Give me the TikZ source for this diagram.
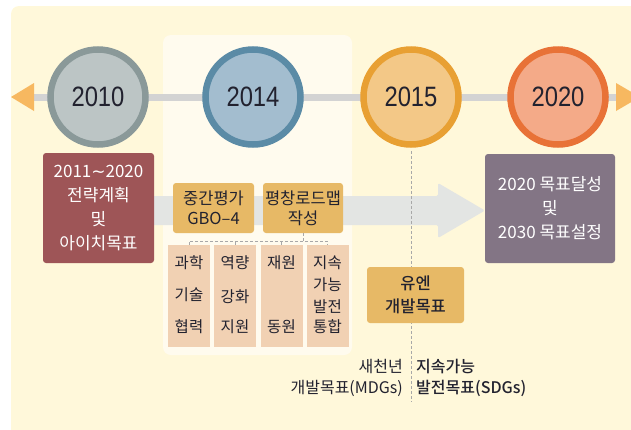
\documentclass[tikz,border=0pt]{standalone}
\usepackage{fontspec}
\setmainfont{Noto Sans CJK KR}
\newfontfamily\krfont{Noto Sans CJK KR}
\newfontfamily\krbold{Noto Sans CJK KR Medium}
\newfontfamily\symfont{DejaVu Sans}
\newfontfamily\yearfont[FakeStretch=0.85]{Liberation Sans}
\definecolor{bgc}{HTML}{FFF8DA}
\definecolor{panelc}{HTML}{FFFBEE}
\definecolor{linec}{HTML}{D3D3D3}
\definecolor{tipc}{HTML}{F7B860}
\definecolor{ringA}{HTML}{8A9999}\definecolor{fillA}{HTML}{BCC5C5}
\definecolor{ringB}{HTML}{5B8BA6}\definecolor{fillB}{HTML}{A3BDCF}
\definecolor{ringC}{HTML}{E8A033}\definecolor{fillC}{HTML}{F3C887}
\definecolor{ringD}{HTML}{E87237}\definecolor{fillD}{HTML}{F4AA88}
\definecolor{redbox}{HTML}{9E5557}
\definecolor{purbox}{HTML}{837585}
\definecolor{goldc}{HTML}{E7B966}
\definecolor{subc}{HTML}{F1D1B3}
\definecolor{arrc}{HTML}{E3E5E3}
\definecolor{txtc}{HTML}{22222F}
\definecolor{dashc}{HTML}{A8A8A8}
\begin{document}
\begin{tikzpicture}[x=1pt,y=-1pt,
  yearcirc/.style={circle, line width=6.5pt, minimum size=95pt, inner sep=0pt,
    font=\yearfont\fontsize{28}{30}\selectfont, text=txtc},
  darkbox/.style={rounded corners=3pt, inner sep=0pt, text=white, align=center,
    font=\krfont\fontsize{17}{24}\selectfont},
  goldbox/.style={rounded corners=3pt, fill=goldc, inner sep=0pt, text=txtc, align=center,
    font=\krfont\fontsize{16.5}{20}\selectfont},
  subbox/.style={fill=subc, inner sep=0pt, minimum width=42pt, minimum height=102pt},
  subtxt/.style={inner sep=0pt, text=txtc, font=\krfont\fontsize{15.5}{18}\selectfont},
  conn/.style={dashc, dashed, line width=0.8pt, dash pattern=on 3pt off 2pt},
  notetxt/.style={inner sep=0pt, text=txtc, font=\krfont\fontsize{16}{21}\selectfont}
]
\useasboundingbox (0,0) rectangle (631,429);
% background
\fill[bgc, rounded corners=8pt] (11,6) rectangle (660,450);
\fill[panelc, rounded corners=8pt] (163,35) rectangle (352,355);
% timeline
\fill[linec] (30,93.5) rectangle (620,100.5);
\fill[tipc] (11,97) -- (34,83) -- (34,111) -- cycle;
\fill[tipc] (616,83) -- (640,97) -- (616,111) -- cycle;
% big arrow
\fill[arrc, rounded corners=1.5pt] (150,196) -- (438,196) -- (438,183) -- (485,210.5) -- (438,238) -- (438,225) -- (150,225) -- cycle;
% circles
\node[yearcirc, draw=ringA, fill=fillA] (c1) at (98,97) {2010};
\node[yearcirc, draw=ringB, fill=fillB] (c2) at (253,97) {2014};
\node[yearcirc, draw=ringC, fill=fillC] (c3) at (411,97) {2015};
\node[yearcirc, draw=ringD, fill=fillD] (c4) at (558,97) {2020};
% 2015 dashed line
\coordinate (lend) at (411,402);
\draw[conn] (c3.south) ++(0,3.5) -- (lend);
% boxes
\node[darkbox, fill=redbox, minimum width=111pt, minimum height=110pt] (r1) at (98.5,208)
  {2011{\symfont ∼}2020\\전략계획\\및\\아이치목표};
\node[darkbox, fill=purbox, minimum width=130pt, minimum height=109pt] (r2) at (550,208.5)
  {2020 목표달성\\및\\2030 목표설정};
\node[goldbox, minimum width=81pt, minimum height=50pt] (g1) at (213.5,208) {중간평가\\GBO–4};
\node[goldbox, minimum width=80pt, minimum height=50pt] (g2) at (303,208) {평창로드맵\\작성};
\node[goldbox, minimum width=97pt, minimum height=56pt, font=\krbold\fontsize{16.5}{23}\selectfont] (g3) at (415.5,295) {유엔\\개발목표};
% sub boxes
\node[subbox] (s1) at (189,296) {};
\node[subbox] (s2) at (235,296) {};
\node[subbox] (s3) at (281.5,296) {};
\node[subbox] (s4) at (327.5,296) {};
\node[subtxt] (t11) at (189,263) {과학};
\node[subtxt] (t12) at (189,295) {기술};
\node[subtxt] (t13) at (189,327) {협력};
\node[subtxt] (t21) at (235,263) {역량};
\node[subtxt] (t22) at (235,297) {강화};
\node[subtxt] (t23) at (235,327) {지원};
\node[subtxt] (t31) at (281.5,263) {재원};
\node[subtxt] (t32) at (281.5,327) {동원};
\node[subtxt] (t41) at (327.5,263) {지속};
\node[subtxt] (t42) at (327.5,285) {가능};
\node[subtxt] (t43) at (327.5,307) {발전};
\node[subtxt] (t44) at (327.5,327) {통합};
% connectors
\coordinate (hub) at (303,241);
\draw[conn] (s1.north) -- (s1.north |- hub) -- (s4.north |- hub) -- (s4.north);
\draw[conn] (s2.north) -- (s2.north |- hub);
\draw[conn] (s3.north) -- (s3.north |- hub);
\draw[conn] (g2.south) -- (hub);
% bottom notes
\node[notetxt, anchor=east, align=right] (n1) at (403,378) {새천년\\개발목표(MDGs)};
\node[notetxt, anchor=west, align=left, font=\krbold\fontsize{16}{21}\selectfont] (n2) at (416,378) {지속가능\\발전목표(SDGs)};
\end{tikzpicture}
\end{document}
